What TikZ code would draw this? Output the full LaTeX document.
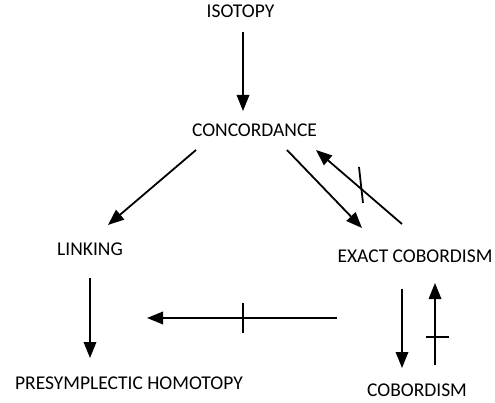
\documentclass[tikz,border=0pt]{standalone}
\usepackage{fontspec}
\setmainfont{Carlito}
\usetikzlibrary{arrows.meta}

\tikzset{
    term/.style={font=\fontsize{19.5}{23}\selectfont, inner sep=0pt},
    arr/.style={line width=1.8pt, -{Triangle[length=16pt,width=12.5pt]}},
    bar/.style={line width=1.8pt}
}

\begin{document}
\begin{tikzpicture}[x=1pt,y=-1pt]
    \useasboundingbox (0,0) rectangle (495,403);

    % The notions
    \node[term] (isotopy) at (240.5,11) {ISOTOPY};
    \node[term] (concordance) at (254.5,130) {CONCORDANCE};
    \node[term] (linking) at (90,249) {LINKING};
    \node[term] (exact) at (415,256.5) {EXACT COBORDISM};
    \node[term] (cobordism) at (417,390) {COBORDISM};
    \node[term] (presymp) at (129,383.5) {PRESYMPLECTIC HOMOTOPY};

    % Ends of the arrows
    \coordinate (iso-s) at (243,32);
    \coordinate (con-n) at (243,111);
    \coordinate (con-sw) at (196,150);
    \coordinate (lin-n) at (108,225);
    \coordinate (con-se) at (287,150);
    \coordinate (ex-nw) at (362,228);
    \coordinate (ex-n) at (402,224);
    \coordinate (con-e) at (316,150);
    \coordinate (ex-s) at (402,289);
    \coordinate (cob-n) at (402,368);
    \coordinate (cob-ne) at (435,365);
    \coordinate (ex-se) at (435,283);
    \coordinate (ex-w) at (337,318);
    \coordinate (lin-e) at (147,318);
    \coordinate (lin-s) at (90,278);
    \coordinate (pre-n) at (90,358);

    % Implications
    \draw[arr] (iso-s) -- (con-n);
    \draw[arr] (con-sw) -- (lin-n);
    \draw[arr] (con-se) -- (ex-nw);
    \draw[arr] (ex-n) -- (con-e);
    \draw[arr] (ex-s) -- (cob-n);
    \draw[arr] (cob-ne) -- (ex-se);
    \draw[arr] (ex-w) -- (lin-e);
    \draw[arr] (lin-s) -- (pre-n);

    % Strike-throughs for the failing ones
    \coordinate (x1a) at (359,167);
    \coordinate (x1b) at (363,203);
    \coordinate (x2a) at (426,337);
    \coordinate (x2b) at (449,337);
    \coordinate (x3a) at (243,303);
    \coordinate (x3b) at (243,333);
    \draw[bar] (x1a) -- (x1b);
    \draw[bar] (x2a) -- (x2b);
    \draw[bar] (x3a) -- (x3b);
\end{tikzpicture}
\end{document}
